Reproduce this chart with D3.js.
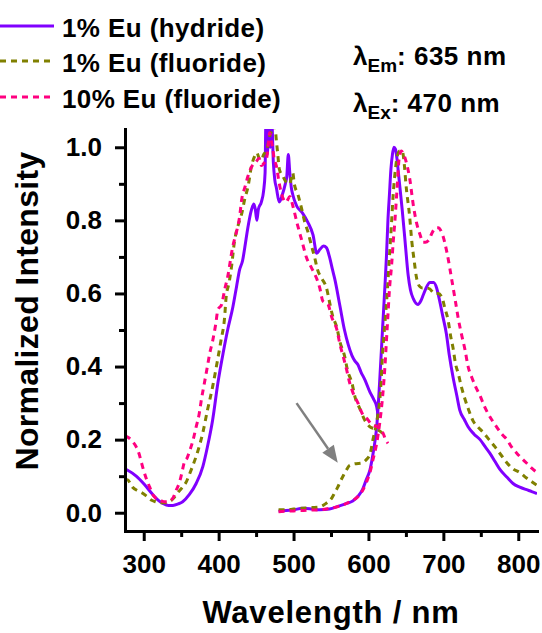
<!DOCTYPE html>
<html>
<head>
<meta charset="utf-8">
<script src="https://cdn.jsdelivr.net/npm/d3@7"></script>
<style>
  html, body { margin: 0; padding: 0; background: #fff; }
  svg { display: block; font-family: "Liberation Sans", Arial, sans-serif; font-weight: bold; }
</style>
</head>
<body>
<svg id="chart" width="542" height="633"></svg>
<script>
// Normalized excitation (left band) and emission (right band) spectra, [wavelength nm, intensity]
const hydrideEx = [[275,0.12],[278,0.117],[290,0.10],[301,0.077],[312,0.05],[320,0.033],[326,0.025],[333,0.02],[339,0.02],[346,0.024],[352,0.03],[361,0.05],[370,0.08],[379,0.127],[385,0.18],[392,0.254],[399,0.355],[406,0.437],[412,0.50],[419,0.563],[424,0.62],[428,0.665],[432,0.69],[435,0.727],[439,0.78],[444,0.83],[447,0.845],[449,0.83],[451,0.80],[453,0.83],[457,0.85],[460,0.88],[462,0.93],[463,1.06],[465,0.98],[467,1.08],[469,1.0],[471,1.07],[473,0.96],[475,0.91],[477,0.89],[481,0.85],[485,0.87],[489,0.90],[491,0.92],[493,0.98],[495,0.93],[497,0.89],[499,0.87],[504,0.84],[512,0.82],[519,0.795],[526,0.76],[531,0.71],[535,0.72],[540,0.73],[544,0.725],[548,0.70],[552,0.665],[555,0.64],[562,0.565],[568,0.50],[573,0.46],[578,0.43],[582,0.415],[586,0.405],[590,0.385],[595,0.365],[602,0.33],[607,0.31],[611,0.29],[613,0.265]];
const hydrideEm = [[480,0.005],[490,0.006],[500,0.008],[512,0.012],[525,0.01],[535,0.008],[548,0.01],[560,0.018],[570,0.025],[579,0.032],[586,0.045],[592,0.063],[597,0.09],[602,0.117],[606,0.16],[609,0.2],[611,0.235],[615,0.36],[619,0.51],[622,0.62],[624,0.70],[626,0.80],[628,0.87],[630,0.94],[632,0.98],[634,1.0],[636,0.995],[638,0.97],[640,0.93],[642,0.89],[645,0.83],[649,0.74],[653,0.65],[656,0.61],[660,0.585],[666,0.57],[670,0.58],[673,0.595],[677,0.615],[682,0.63],[687,0.63],[691,0.615],[695,0.58],[699,0.54],[704,0.49],[708,0.43],[713,0.37],[718,0.32],[722,0.28],[728,0.255],[733,0.235],[741,0.215],[749,0.20],[756,0.18],[762,0.163],[769,0.14],[776,0.117],[785,0.097],[793,0.08],[802,0.07],[811,0.063],[818,0.058],[825,0.052]];

const fluoride1Ex = [[275,0.09],[278,0.09],[285,0.07],[292,0.06],[298,0.054],[304,0.045],[310,0.035],[316,0.03],[321,0.027],[328,0.027],[334,0.03],[340,0.04],[345,0.054],[351,0.068],[357,0.085],[361,0.105],[365,0.126],[372,0.167],[379,0.22],[385,0.28],[392,0.345],[397,0.40],[403,0.47],[408,0.535],[410,0.59],[414,0.63],[417,0.67],[421,0.74],[428,0.80],[431,0.82],[435,0.86],[439,0.89],[444,0.95],[448,0.975],[451,0.985],[454,0.97],[457,0.965],[460,0.98],[464,0.99],[468,1.03],[472,1.05],[475,1.06],[477,1.02],[479,0.98],[481,0.94],[486,0.92],[490,0.905],[495,0.90],[497,0.915],[499,0.93],[501,0.90],[506,0.87],[511,0.83],[515,0.795],[519,0.77],[524,0.73],[528,0.70],[532,0.665],[538,0.64],[544,0.615],[548,0.577],[552,0.54],[558,0.505],[562,0.467],[568,0.43],[572,0.39],[578,0.355],[582,0.317],[588,0.287],[595,0.254],[602,0.235],[608,0.23],[614,0.225],[620,0.215]];
const fluoride1Em = [[480,0.008],[490,0.008],[500,0.01],[510,0.012],[517,0.013],[525,0.014],[535,0.016],[543,0.025],[551,0.04],[555,0.055],[559,0.07],[563,0.088],[566,0.10],[570,0.115],[575,0.13],[582,0.134],[591,0.136],[597,0.145],[602,0.16],[606,0.2],[612,0.26],[616,0.33],[619,0.44],[622,0.52],[625,0.6],[628,0.7],[631,0.8],[633,0.87],[636,0.94],[639,0.98],[642,0.99],[645,0.99],[648,0.95],[650,0.9],[655,0.81],[658,0.74],[661,0.69],[664,0.645],[668,0.62],[672,0.615],[677,0.615],[682,0.612],[688,0.60],[693,0.60],[698,0.59],[702,0.56],[706,0.53],[710,0.48],[713,0.45],[716,0.41],[720,0.38],[724,0.345],[729,0.31],[734,0.28],[740,0.25],[746,0.235],[753,0.22],[761,0.2],[769,0.18],[777,0.158],[785,0.136],[793,0.12],[802,0.11],[811,0.095],[820,0.082],[825,0.075]];

const fluoride10Ex = [[275,0.21],[280,0.205],[285,0.195],[290,0.18],[294,0.16],[297,0.137],[300,0.115],[304,0.09],[308,0.07],[312,0.05],[316,0.04],[321,0.035],[327,0.03],[332,0.03],[336,0.033],[339,0.04],[343,0.06],[348,0.085],[351,0.11],[354,0.137],[358,0.15],[361,0.167],[366,0.2],[370,0.235],[374,0.27],[377,0.31],[381,0.355],[385,0.40],[388,0.435],[392,0.47],[396,0.515],[399,0.555],[404,0.57],[408,0.61],[412,0.645],[419,0.73],[424,0.77],[428,0.81],[431,0.86],[435,0.89],[439,0.92],[445,0.95],[450,0.96],[454,0.97],[457,0.95],[460,0.955],[464,0.97],[466,1.0],[468,1.04],[470,1.02],[472,1.0],[474,0.97],[477,0.95],[481,0.90],[486,0.86],[490,0.85],[495,0.865],[499,0.84],[505,0.79],[511,0.745],[517,0.70],[524,0.67],[531,0.64],[535,0.615],[539,0.58],[546,0.57],[551,0.535],[558,0.50],[562,0.46],[566,0.43],[571,0.39],[575,0.355],[579,0.33],[586,0.30],[592,0.27],[599,0.255],[605,0.24],[612,0.235],[619,0.22],[623,0.20],[626,0.19]];
const fluoride10Em = [[480,0.003],[490,0.004],[500,0.005],[510,0.006],[520,0.007],[535,0.008],[548,0.012],[558,0.016],[567,0.022],[575,0.03],[586,0.044],[592,0.06],[597,0.082],[602,0.11],[606,0.145],[611,0.19],[615,0.245],[619,0.32],[622,0.40],[624,0.47],[626,0.54],[628,0.61],[631,0.68],[633,0.74],[635,0.79],[638,0.88],[641,0.97],[644,0.99],[646,0.985],[651,0.955],[655,0.915],[660,0.84],[664,0.795],[669,0.76],[673,0.74],[676,0.74],[680,0.745],[686,0.77],[690,0.78],[693,0.78],[699,0.76],[705,0.71],[711,0.64],[716,0.58],[720,0.53],[724,0.49],[729,0.445],[733,0.40],[738,0.37],[743,0.345],[749,0.32],[755,0.29],[760,0.27],[766,0.25],[771,0.235],[778,0.215],[785,0.20],[791,0.18],[798,0.163],[804,0.15],[811,0.136],[818,0.122],[825,0.11]];

const seriesNames = ["1% Eu (hydride)", "1% Eu (fluoride)", "10% Eu (fluoride)"];
const xTicks = [300, 400, 500, 600, 700, 800];
const xMinorTicks = [350, 450, 550, 650, 750];
const yTicks = [0.0, 0.2, 0.4, 0.6, 0.8, 1.0];
const yMinorTicks = [0.1, 0.3, 0.5, 0.7, 0.9];
const emissionWavelength = 635;
const excitationWavelength = 470;
// Arrow pointing at the 1% fluoride shoulder: [wavelength, intensity] of tail and tip
const arrowTail = [504, 0.30];
const arrowTip = [559, 0.137];

const series = [
  { name: seriesNames[0], parts: [hydrideEx, hydrideEm], color: "#8000ff", dash: null },
  { name: seriesNames[1], parts: [fluoride1Ex, fluoride1Em], color: "#808000", dash: "6,5" },
  { name: seriesNames[2], parts: [fluoride10Ex, fluoride10Em], color: "#ff0080", dash: "6,5" }
];

const svg = d3.select("#chart");
const x = d3.scaleLinear().domain([275, 825]).range([125, 537]);
const y = d3.scaleLinear().domain([-0.05, 1.05]).range([531, 129]);

svg.append("defs").append("clipPath").attr("id", "plotClip")
  .append("rect").attr("x", x.range()[0]).attr("y", y.range()[1])
  .attr("width", x.range()[1] - x.range()[0]).attr("height", y.range()[0] - y.range()[1]);

// spectra
const line = d3.line().x(d => x(d[0])).y(d => y(d[1])).curve(d3.curveMonotoneX);
const plot = svg.append("g").attr("clip-path", "url(#plotClip)");
series.forEach(s => {
  s.parts.forEach(p => {
    plot.append("path").datum(p)
      .attr("d", line)
      .attr("fill", "none")
      .attr("stroke", s.color)
      .attr("stroke-width", 3)
      .attr("stroke-linejoin", "round")
      .attr("stroke-dasharray", s.dash);
  });
});

// axes
function styleAxis(g) {
  g.selectAll("path.domain").attr("stroke", "#000").attr("stroke-width", 3).attr("stroke-linecap", "square");
  g.selectAll(".tick line").attr("stroke", "#000").attr("stroke-width", 3);
  g.selectAll(".tick text").attr("fill", "#000").style("font-size", "26px").style("font-weight", "bold")
    .style("font-family", "'Liberation Sans', Arial, sans-serif");
}
const xAxis = svg.append("g").attr("transform", `translate(0,${y.range()[0]})`)
  .call(d3.axisBottom(x).tickValues(xTicks).tickFormat(d3.format("d")).tickSize(10).tickSizeOuter(0).tickPadding(14));
styleAxis(xAxis);
const xMinor = svg.append("g").attr("transform", `translate(0,${y.range()[0]})`)
  .call(d3.axisBottom(x).tickValues(xMinorTicks).tickFormat("").tickSize(6).tickSizeOuter(0));
styleAxis(xMinor);
xMinor.select("path.domain").remove();

const yAxis = svg.append("g").attr("transform", `translate(${x.range()[0]},0)`)
  .call(d3.axisLeft(y).tickValues(yTicks).tickFormat(d3.format(".1f")).tickSize(10).tickSizeOuter(0).tickPadding(13));
styleAxis(yAxis);
const yMinor = svg.append("g").attr("transform", `translate(${x.range()[0]},0)`)
  .call(d3.axisLeft(y).tickValues(yMinorTicks).tickFormat("").tickSize(6).tickSizeOuter(0));
styleAxis(yMinor);
yMinor.select("path.domain").remove();

// axis titles
svg.append("text")
  .attr("x", (x.range()[0] + x.range()[1]) / 2).attr("y", 623)
  .attr("text-anchor", "middle").style("font-size", "31px").style("letter-spacing", "0.8px")
  .text("Wavelength / nm");
svg.append("text")
  .attr("transform", "translate(38,311) rotate(-90)")
  .attr("text-anchor", "middle").style("font-size", "32px").style("letter-spacing", "0.3px")
  .text("Normalized Intensity");

// legend
const legend = svg.append("g");
const legendRows = [26, 61, 97];
series.forEach((s, i) => {
  legend.append("line").attr("x1", 0).attr("x2", 54).attr("y1", legendRows[i]).attr("y2", legendRows[i])
    .attr("stroke", s.color).attr("stroke-width", 3).attr("stroke-dasharray", s.dash);
  legend.append("text").attr("x", 62).attr("y", legendRows[i] + 10.5)
    .style("font-size", "26px").style("letter-spacing", "0.4px").text(s.name);
});

// wavelength annotations
function lambdaLabel(yBase, sub, value) {
  const t = svg.append("text").attr("x", 353).attr("y", yBase).style("font-size", "26px");
  t.append("tspan").text("λ");
  t.append("tspan").attr("dy", 7).style("font-size", "19px").text(sub);
  t.append("tspan").attr("dy", -7).style("letter-spacing", "0.5px").text(`: ${value} nm`);
}
lambdaLabel(65, "Em", emissionWavelength);
lambdaLabel(112, "Ex", excitationWavelength);

// arrow
const ax0 = x(arrowTail[0]), ay0 = y(arrowTail[1]);
const ax1 = x(arrowTip[0]), ay1 = y(arrowTip[1]);
const ang = Math.atan2(ay1 - ay0, ax1 - ax0);
const headLen = 17, headHalf = 7;
const bx = ax1 - headLen * Math.cos(ang), by = ay1 - headLen * Math.sin(ang);
svg.append("line").attr("x1", ax0).attr("y1", ay0).attr("x2", bx).attr("y2", by)
  .attr("stroke", "#808080").attr("stroke-width", 2.5);
svg.append("path")
  .attr("d", d3.line()([
    [ax1, ay1],
    [bx + headHalf * Math.sin(ang), by - headHalf * Math.cos(ang)],
    [bx - headHalf * Math.sin(ang), by + headHalf * Math.cos(ang)]
  ]) + "Z")
  .attr("fill", "#808080");
</script>
</body>
</html>
